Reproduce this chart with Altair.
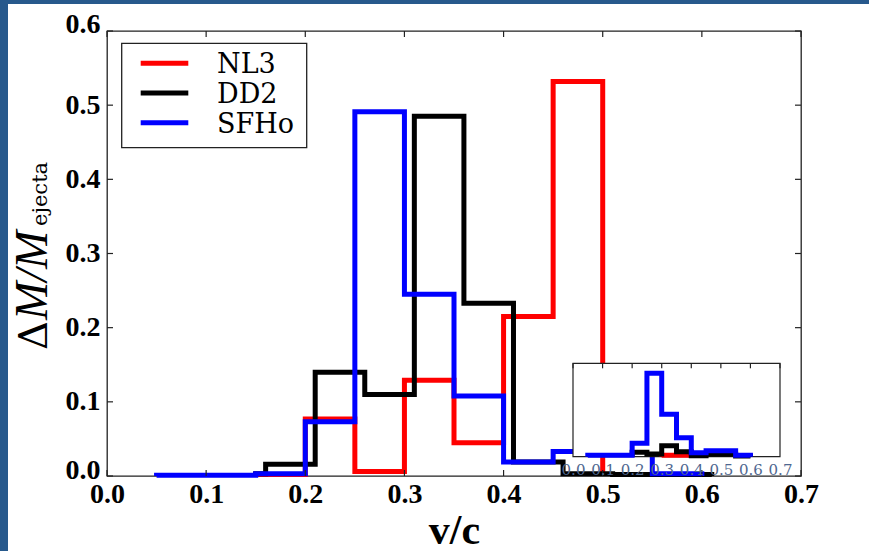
import altair as alt
import pandas as pd

# ---------------- data ----------------
models = ["NL3", "DD2", "SFHo"]
colors = ["#ff0000", "#000000", "#0000ff"]

# main panel: step histograms (bin edges, bin heights)
nl3_edges = [0.15, 0.20, 0.25, 0.30, 0.35, 0.40, 0.45, 0.50]
nl3_vals = [0.002, 0.077, 0.006, 0.129, 0.045, 0.215, 0.532]

dd2_edges = [0.15, 0.16, 0.21, 0.26, 0.31, 0.36, 0.41, 0.46, 0.51, 0.56, 0.61]
dd2_vals = [0.003, 0.016, 0.140, 0.110, 0.485, 0.233, 0.019, 0.003, 0.002, 0.002]

sfho_edges = [0.05, 0.10, 0.15, 0.20, 0.25, 0.30, 0.35, 0.40, 0.45, 0.50, 0.55, 0.60]
sfho_vals = [0.001, 0.001, 0.003, 0.073, 0.491, 0.245, 0.108, 0.019, 0.033, 0.033, 0.003]

# inset panel
in_nl3_edges = [0.30, 0.35, 0.40]
in_nl3_vals = [0.010, 0.010]

in_dd2_edges = [0.20, 0.25, 0.30, 0.35, 0.40, 0.45, 0.50, 0.55, 0.60]
in_dd2_vals = [0.028, 0.017, 0.071, 0.032, 0.006, 0.015, 0.015, 0.004]

in_sfho_edges = [0.05, 0.10, 0.15, 0.20, 0.25, 0.30, 0.35, 0.40, 0.45, 0.50, 0.55, 0.60]
in_sfho_vals = [0.010, 0.010, 0.010, 0.086, 0.536, 0.272, 0.122, 0.026, 0.038, 0.038, 0.010]

x_ticks = [0.0, 0.1, 0.2, 0.3, 0.4, 0.5, 0.6, 0.7]
y_ticks = [0.0, 0.1, 0.2, 0.3, 0.4, 0.5, 0.6]
inset_x_ticks = [0.0, 0.1, 0.2, 0.3, 0.4, 0.5, 0.6, 0.7]


def steps(name, edges, vals):
    xs = [edges[0]] + edges[:-1] + [edges[-1]]
    ys = [0.0] + vals + [0.0]
    return pd.DataFrame({"x": xs, "y": ys, "model": name, "i": list(range(len(xs)))})


W, H = 694, 445
SERIF = "Liberation Serif"
SERIF_R = "DejaVu Serif"

color_enc = alt.Color("model:N", scale=alt.Scale(domain=models, range=colors), legend=None)

xscale = alt.Scale(domain=[0, 0.7], nice=False, zero=False)
yscale = alt.Scale(domain=[0, 0.6], nice=False)

xaxis = alt.Axis(
    values=x_ticks, format=".1f", ticks=False, domain=False, grid=False,
    labelFont=SERIF, labelFontWeight="bold", labelFontSize=28, labelColor="black",
    labelPadding=4, labelFlush=False, labelOverlap=False,
    title="v/c", titleFont=SERIF, titleFontWeight="bold", titleFontSize=42,
    titleColor="black", titlePadding=2,
)
yaxis = alt.Axis(
    values=y_ticks, format=".1f", ticks=False, domain=False, grid=False,
    labelFont=SERIF, labelFontWeight="bold", labelFontSize=28, labelColor="black",
    labelPadding=7, labelFlush=False, labelOverlap=False, title=None,
    labelOffset=alt.ExprRef("datum.value === 0 ? -6 : (datum.value === 0.6 ? -7 : 0)"),
)

X = alt.X("x:Q", scale=xscale, axis=xaxis)
Y = alt.Y("y:Q", scale=yscale, axis=yaxis)

def main_line(df):
    return alt.Chart(df).mark_line(
        interpolate="step-after", strokeWidth=5, strokeJoin="miter", strokeCap="butt"
    ).encode(x=X, y=Y, color=color_enc, order="i:Q")

main_lines = [
    main_line(steps("NL3", nl3_edges, nl3_vals)),
    main_line(steps("DD2", dd2_edges, dd2_vals)),
    main_line(steps("SFHo", sfho_edges, sfho_vals)),
]

xt = pd.DataFrame({"x": x_ticks})
yt = pd.DataFrame({"y": y_ticks})
tick_style = dict(color="#222", strokeWidth=1.2)
ticks = [
    alt.Chart(xt).mark_rule(**tick_style).encode(x=X, y=alt.value(H), y2=alt.value(H - 6)),
    alt.Chart(xt).mark_rule(**tick_style).encode(x=X, y=alt.value(0), y2=alt.value(6)),
    alt.Chart(yt).mark_rule(**tick_style).encode(y=Y, x=alt.value(0), x2=alt.value(6)),
    alt.Chart(yt).mark_rule(**tick_style).encode(y=Y, x=alt.value(W), x2=alt.value(W - 6)),
]

one = pd.DataFrame({"k": [0]})
ytitle = [
    alt.Chart(one).mark_text(
        text="Δ", font=SERIF_R, fontSize=40, angle=270,
        align="left", baseline="alphabetic", color="black"
    ).encode(x=alt.value(-60), y=alt.value(319)),
    alt.Chart(one).mark_text(
        text="M/M", font=SERIF, fontStyle="italic", fontSize=46, angle=270,
        align="left", baseline="alphabetic", color="black"
    ).encode(x=alt.value(-60), y=alt.value(289)),
    alt.Chart(one).mark_text(
        text="ejecta", font=SERIF_R, fontSize=21, angle=270,
        align="left", baseline="alphabetic", color="black"
    ).encode(x=alt.value(-60), y=alt.value(195)),
]

# legend (drawn by hand so the serif label font is honoured)
legend_layers = [
    alt.Chart(one).mark_rect(fill="white", stroke="#222", strokeWidth=1.3).encode(
        x=alt.value(14.7), x2=alt.value(199.7), y=alt.value(12.3), y2=alt.value(116.7))
]
for i, m in enumerate(models):
    yy = 32.3 + 29.7 * i
    d = pd.DataFrame({"model": [m]})
    legend_layers.append(
        alt.Chart(d).mark_rule(strokeWidth=5, strokeCap="butt").encode(
            x=alt.value(33.7), x2=alt.value(81.3), y=alt.value(yy), color=color_enc)
    )
    legend_layers.append(
        alt.Chart(d).mark_text(font=SERIF_R, fontSize=27, align="left",
                               baseline="alphabetic", color="black").encode(
            text="model:N", x=alt.value(110), y=alt.value(yy + 10))
    )

# slide background strips
slide_blue = "#27598c"
strips = [
    alt.Chart(one).mark_rect(color=slide_blue).encode(
        x=alt.value(-107), x2=alt.value(-99), y=alt.value(-31), y2=alt.value(H + 75)),
    alt.Chart(one).mark_rect(color=slide_blue).encode(
        x=alt.value(-107), x2=alt.value(W + 68), y=alt.value(-31), y2=alt.value(-27)),
]

main_group = alt.layer(*strips, *main_lines, *ticks, *ytitle)

# ---------------- inset ----------------
ixscale = alt.Scale(domain=[0, 0.7], range=[466, 673], nice=False, zero=False)
iyscale = alt.Scale(domain=[0, 0.6], range=[425.7, 332.3], nice=False, zero=False)
ixaxis = alt.Axis(
    values=inset_x_ticks, format=".1f", orient="bottom", offset=-19, ticks=False,
    domain=False, grid=False, labelFont="DejaVu Serif", labelFontSize=15,
    labelColor="#4f6790", labelPadding=5, labelFlush=False, labelOverlap=False,
    title=None, zindex=2,
)
IX = alt.X("x:Q", scale=ixscale, axis=ixaxis)
IY = alt.Y("y:Q", scale=iyscale, axis=None)

box = alt.Chart(pd.DataFrame({"x": [0.0], "x2": [0.7], "y": [0.0], "y2": [0.6]})).mark_rect(
    fill="white", stroke="#222", strokeWidth=1.2
).encode(x=IX, x2="x2:Q", y=IY, y2="y2:Q")

def inset_line(df):
    return alt.Chart(df).mark_line(
        interpolate="step-after", strokeWidth=5, strokeJoin="miter", strokeCap="butt"
    ).encode(x=IX, y=IY, color=color_enc, order="i:Q")

inset_lines = [
    inset_line(steps("NL3", in_nl3_edges, in_nl3_vals)),
    inset_line(steps("DD2", in_dd2_edges, in_dd2_vals)),
    inset_line(steps("SFHo", in_sfho_edges, in_sfho_vals)),
]
inset_ticks = alt.Chart(pd.DataFrame({"x": inset_x_ticks})).mark_rule(**tick_style).encode(
    x=IX, y=alt.value(332.3), y2=alt.value(337.3))

inset_group = alt.layer(box, *inset_lines, inset_ticks, *legend_layers)

chart = alt.layer(main_group, inset_group).resolve_scale(
    x="independent", y="independent"
).properties(
    width=W, height=H,
    padding={"left": 107, "top": 31, "right": 68, "bottom": 75},
    autosize=alt.AutoSizeParams(type="none"),
    background="white",
).configure_view(
    stroke="#222", strokeWidth=1.3
)

chart.save("out.html", embed_options={"renderer": "svg", "actions": False})
